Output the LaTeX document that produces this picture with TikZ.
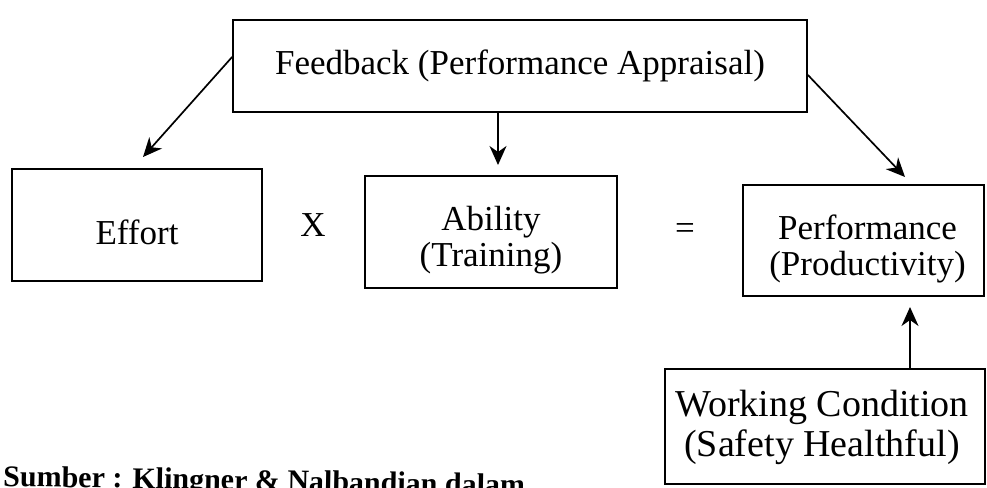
\documentclass[tikz,border=0pt]{standalone}
\usepackage{fontspec}
\setmainfont{Liberation Serif}
\usetikzlibrary{arrows.meta}
\begin{document}
\begin{tikzpicture}[x=1pt,y=-1pt,
  box/.style={draw, line width=1.8pt, rectangle, inner sep=0pt},
  lbl/.style={font=\fontsize{35}{36}\selectfont, inner sep=0pt, align=center},
  arr/.style={line width=1.7pt, -{Stealth[length=19pt,width=17pt,inset=6pt]}}]
\useasboundingbox (0,0) rectangle (987,487);

% boxes
\node[box, minimum width=574pt, minimum height=92pt] (fb) at (520,66) {};
\node[box, minimum width=250pt, minimum height=112pt] (effort) at (137,225) {};
\node[box, minimum width=252pt, minimum height=112pt] (ability) at (491,232) {};
\node[box, minimum width=241pt, minimum height=111pt] (perf) at (863.5,240.5) {};
\node[box, minimum width=320pt, minimum height=115pt] (wc) at (825,426.5) {};

% box texts
\node[lbl] (fbt) at (fb.center) {Feedback (Performance Appraisal)};
\node[lbl] (efft) at ([yshift=-7pt]effort.center) {Effort};
\node[lbl] (abit) at ([yshift=-8pt]ability.center) {Ability\\(Training)};
\node[lbl] (perft) at ([xshift=4pt,yshift=-8pt]perf.center) {Performance\\(Productivity)};
\node[lbl, font=\fontsize{38}{40}\selectfont] (wct) at ([xshift=-3pt,yshift=-1pt]wc.center)
  {Working Condition\\(Safety Healthful)};

% operators
\node[lbl] (times) at (313,225) {X};
\node[lbl] (eq) at (685,231) {=};

% source line
\node[anchor=base west, inner sep=0pt, rotate=-1,
  font=\fontsize{30}{32}\selectfont\bfseries] (src)
  at (3,486) {Sumber : Klingner \& Nalbandian dalam};

% arrow tips
\coordinate (t1) at (143,157);
\coordinate (t2) at (498,165);
\coordinate (t3) at (905,177);
\coordinate (t4) at (910,307);

\draw[arr] ([yshift=9pt]fb.west) -- (t1);
\draw[arr] (fb.south -| t2) -- (t2);
\draw[arr] ([yshift=-9pt]fb.east) -- (t3);
\draw[arr] (wc.north -| t4) -- (t4);
\end{tikzpicture}
\end{document}
